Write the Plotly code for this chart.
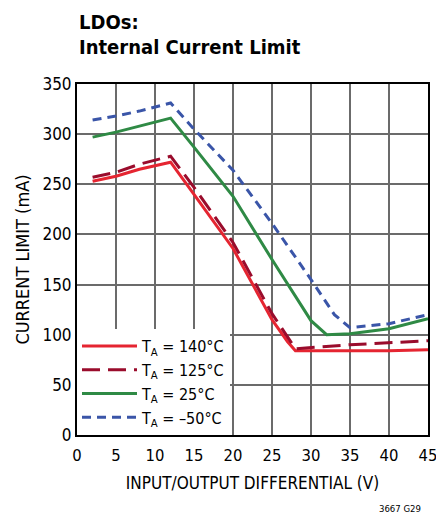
import plotly.graph_objects as go

x_red = [2, 5, 8, 12, 15, 20, 25, 27, 28, 35, 40, 45]
y_140 = [253, 258, 265, 272, 240, 186, 115, 93, 84, 84, 84, 85]
x_dred = [2, 5, 8, 12, 15, 20, 25, 27, 28, 35, 40, 45]
y_125 = [257, 262, 270, 278, 247, 192, 121, 97, 86, 90, 92, 94]
x_green = [2, 5, 8, 12, 15, 20, 25, 30, 32, 35, 40, 45]
y_25 = [297, 302, 308, 316, 287, 238, 175, 114, 100, 101, 106, 116]
x_blue = [2, 5, 8, 12, 15, 20, 25, 30, 33, 35, 40, 45]
y_m50 = [314, 318, 323, 331, 305, 264, 211, 155, 120, 107, 111, 120]

names = ["T<sub>A</sub> = 140°C", "T<sub>A</sub> = 125°C", "T<sub>A</sub> = 25°C", "T<sub>A</sub> = –50°C"]
x_ticks = [0, 5, 10, 15, 20, 25, 30, 35, 40, 45]
y_ticks = [0, 50, 100, 150, 200, 250, 300, 350]

FONT = "DejaVu Sans Condensed, Liberation Sans Narrow, sans-serif"

W, H = 436, 523
L, R, T, B = 77, 8, 84, 88
PH = H - T - B  # plot height in px
PW = W - L - R

fig = go.Figure()
fig.add_trace(go.Scatter(x=x_red, y=y_140, mode="lines", name=names[0],
                         line=dict(color="#e52531", width=3)))
fig.add_trace(go.Scatter(x=x_dred, y=y_125, mode="lines", name=names[1],
                         line=dict(color="#9a0c2c", width=3, dash="18px,8px")))
fig.add_trace(go.Scatter(x=x_green, y=y_25, mode="lines", name=names[2],
                         line=dict(color="#2f8a45", width=3)))
fig.add_trace(go.Scatter(x=x_blue, y=y_m50, mode="lines", name=names[3],
                         line=dict(color="#3a55a8", width=3, dash="9px,6px")))

fig.update_layout(
    width=W, height=H,
    margin=dict(l=L, r=R, t=T, b=B),
    paper_bgcolor="white", plot_bgcolor="white",
    font=dict(family=FONT, color="black", size=16),
    showlegend=True,
    legend=dict(x=0, y=0, xanchor="left", yanchor="bottom",
                bgcolor="white", borderwidth=0,
                font=dict(family=FONT, size=16, color="black"),
                tracegroupgap=0, itemwidth=55),
)
fig.add_annotation(text="<b>LDOs:</b>", xref="paper", yref="paper",
                   x=0.0, y=1.0 + (T - 22) / PH, xanchor="left", yanchor="middle",
                   showarrow=False, font=dict(family=FONT, size=20, color="black"))
fig.add_annotation(text="<b>Internal Current Limit</b>", xref="paper", yref="paper",
                   x=0.0, y=1.0 + (T - 47) / PH, xanchor="left", yanchor="middle",
                   showarrow=False, font=dict(family=FONT, size=20, color="black"))
fig.add_annotation(text="3667 G29", xref="paper", yref="paper",
                   x=(423 - L) / PW, y=-(508 - (H - B)) / PH, xanchor="right", yanchor="middle",
                   showarrow=False, font=dict(family=FONT, size=9.5, color="black"))

fig.update_xaxes(range=[0, 45], tickvals=x_ticks, ticks="", showgrid=True,
                 gridcolor="#6b6b6b", gridwidth=1.5, zeroline=False, automargin=False,
                 showline=True, linecolor="black", linewidth=2, mirror=True,
                 tickfont=dict(size=16.5), ticklabelstandoff=4, ticklabeloverflow="allow",
                 title=dict(text="INPUT/OUTPUT DIFFERENTIAL (V)", font=dict(size=17), standoff=13))
fig.update_yaxes(range=[0, 350], tickvals=y_ticks, ticks="", showgrid=True,
                 gridcolor="#6b6b6b", gridwidth=1.5, zeroline=False, automargin=False,
                 showline=True, linecolor="black", linewidth=2, mirror=True,
                 tickfont=dict(size=17),
                 title=dict(text="CURRENT LIMIT (mA)", font=dict(size=18), standoff=8))

fig.write_html("out.html", config={"displayModeBar": False},
               post_script="document.body.style.margin='0';document.body.style.overflow='hidden';")
